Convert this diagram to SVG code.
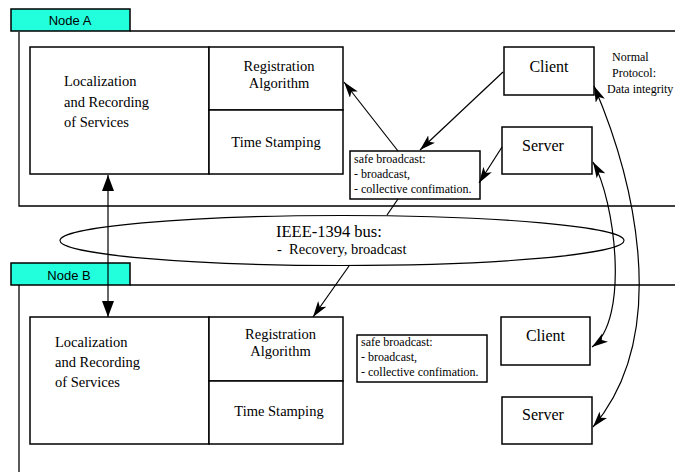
<svg xmlns="http://www.w3.org/2000/svg" width="675" height="472" viewBox="0 0 675 472">
<style>
.ln{fill:none;stroke:#000;stroke-width:1.3}
.bx{fill:#fff;stroke:#000;stroke-width:1.5}
.tab{fill:#22FFDD;stroke:#000;stroke-width:1.5}
.tt{font-family:"Liberation Sans",Arial,sans-serif;font-size:13px;fill:#000;text-anchor:middle}
.s{font-family:"Liberation Serif","Times New Roman",serif;font-size:14.5px;fill:#000}
.m{text-anchor:middle}
.cs{font-family:"Liberation Serif","Times New Roman",serif;font-size:16px;fill:#000;text-anchor:middle}
.sm{font-family:"Liberation Serif","Times New Roman",serif;font-size:12px;fill:#000}
.ar{fill:none;stroke:#000;stroke-width:1.2}
</style>
<defs>
<marker id="ah" viewBox="0 0 16 10" refX="16" refY="5" markerWidth="16" markerHeight="10" markerUnits="userSpaceOnUse" orient="auto-start-reverse">
<path d="M0,0 L16,5 L0,10 L4,5 Z" fill="#000"/>
</marker>
<marker id="ah2" viewBox="0 0 16 12" refX="16" refY="6" markerWidth="16" markerHeight="12" markerUnits="userSpaceOnUse" orient="auto-start-reverse">
<path d="M0,0 L16,6 L0,12 Z" fill="#000"/>
</marker>
</defs>

<g id="nodeA">
<path class="ln" d="M130,31 H675 M19,32 V206 H675"/>
<rect class="tab" x="11" y="9" width="119" height="22"/>
<text class="tt" x="70" y="25">Node A</text>
</g>

<g id="nodeB">
<path class="ln" d="M130,285 H675 M19,285 V472"/>
<rect class="tab" x="11" y="263" width="119" height="22"/>
<text class="tt" x="69" y="280">Node B</text>
</g>

<g id="bus">
<ellipse class="bx" cx="342" cy="240.5" rx="282" ry="25" style="stroke-width:1.2"/>
<text class="s" x="276" y="237" style="font-size:16.5px">IEEE-1394 bus:</text>
<text class="s" x="277" y="254" xml:space="preserve">-  Recovery, broadcast</text>
</g>

<g id="locA">
<rect class="bx" x="30" y="47" width="179" height="127"/>
<text class="s" x="64" y="86">Localization</text>
<text class="s" x="64" y="107">and Recording</text>
<text class="s" x="64" y="127">of Services</text>
</g>
<g id="regA">
<rect class="bx" x="209" y="47" width="134" height="63"/>
<text class="s m" x="279" y="71">Registration</text>
<text class="s m" x="279" y="88">Algorithm</text>
</g>
<g id="timeA">
<rect class="bx" x="209" y="110" width="134" height="64"/>
<text class="s m" x="276" y="147">Time Stamping</text>
</g>
<g id="clientA">
<rect class="bx" x="504" y="47" width="90" height="48"/>
<text class="cs" x="549" y="72">Client</text>
</g>
<g id="serverA">
<rect class="bx" x="502" y="127" width="90" height="47"/>
<text class="cs" x="543" y="151">Server</text>
</g>
<g id="safeA">
<rect class="bx" x="350" y="151" width="130" height="48"/>
<text class="sm" x="354" y="163">safe broadcast:</text>
<text class="sm" x="354" y="178">- broadcast,</text>
<text class="sm" x="354" y="193">- collective confimation.</text>
</g>
<g id="noteA">
<text class="sm" x="612" y="61">Normal</text>
<text class="sm" x="612" y="77">Protocol:</text>
<text class="sm" x="607" y="93">Data integrity</text>
</g>

<g id="locB">
<rect class="bx" x="30" y="317" width="179" height="127"/>
<text class="s" x="55" y="347">Localization</text>
<text class="s" x="55" y="367">and Recording</text>
<text class="s" x="55" y="387">of Services</text>
</g>
<g id="regB">
<rect class="bx" x="209" y="317" width="134" height="64"/>
<text class="s m" x="280.5" y="339">Registration</text>
<text class="s m" x="280.5" y="356">Algorithm</text>
</g>
<g id="timeB">
<rect class="bx" x="209" y="381" width="134" height="63"/>
<text class="s m" x="279" y="416">Time Stamping</text>
</g>
<g id="safeB">
<rect class="bx" x="357" y="335" width="130" height="47"/>
<text class="sm" x="361" y="346">safe broadcast:</text>
<text class="sm" x="361" y="361">- broadcast,</text>
<text class="sm" x="361" y="376">- collective confimation.</text>
</g>
<g id="clientB">
<rect class="bx" x="501" y="317" width="89" height="48"/>
<text class="cs" x="545.5" y="341">Client</text>
</g>
<g id="serverB">
<rect class="bx" x="502" y="397" width="90" height="47"/>
<text class="cs" x="543" y="420">Server</text>
</g>

<g id="connectors">
<line class="ar" x1="108" y1="175" x2="108" y2="317" marker-start="url(#ah2)" marker-end="url(#ah2)"/>
<line class="ar" x1="398" y1="151" x2="344" y2="82" marker-end="url(#ah)"/>
<line class="ar" x1="503" y1="72" x2="420" y2="150" marker-end="url(#ah)"/>
<line class="ar" x1="502" y1="147" x2="479" y2="183" marker-end="url(#ah)"/>
<line class="ar" x1="398" y1="199" x2="387" y2="215"/>
<line class="ar" x1="349" y1="266" x2="313" y2="317" marker-end="url(#ah)"/>
<path class="ar" d="M594,86 C630,170 675,330 593,427" marker-start="url(#ah)" marker-end="url(#ah)"/>
<path class="ar" d="M593,162 C615,200 630,320 592,347" marker-start="url(#ah)" marker-end="url(#ah)"/>
</g>
</svg>
